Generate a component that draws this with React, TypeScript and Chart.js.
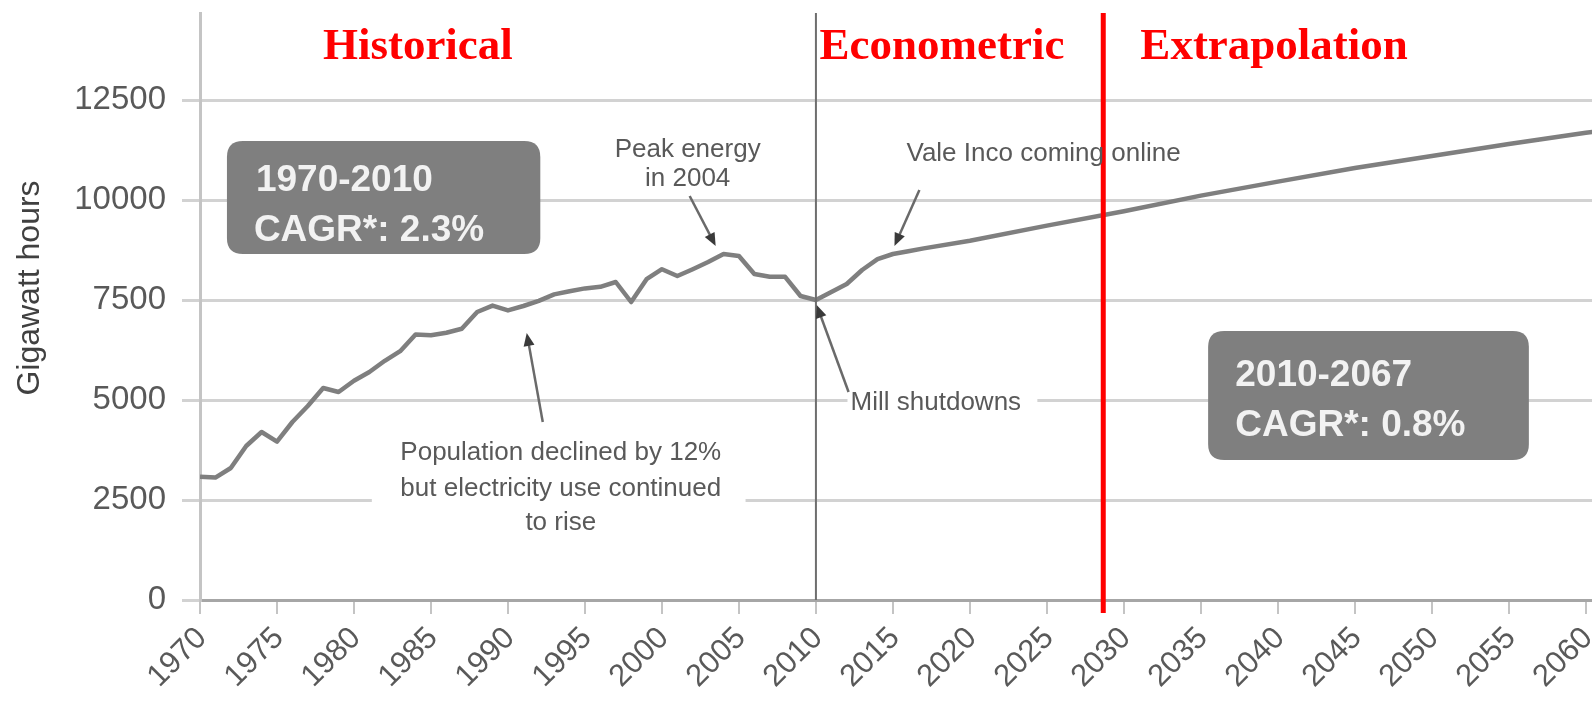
import React, { useEffect, useRef } from "react";
import { Chart, registerables } from "chart.js";

Chart.register(...registerables);

// ---- Data -------------------------------------------------------------
const years = [
  1970, 1971, 1972, 1973, 1974, 1975, 1976, 1977, 1978, 1979,
  1980, 1981, 1982, 1983, 1984, 1985, 1986, 1987, 1988, 1989,
  1990, 1991, 1992, 1993, 1994, 1995, 1996, 1997, 1998, 1999,
  2000, 2001, 2002, 2003, 2004, 2005, 2006, 2007, 2008, 2009,
  2010, 2011, 2012, 2013, 2014, 2015, 2016, 2017,
  2020, 2025, 2030, 2035, 2040, 2045, 2050, 2055, 2060, 2061,
];

const gigawattHours = [
  3080, 3060, 3300, 3850, 4200, 3960, 4450, 4850, 5300, 5200,
  5480, 5700, 5980, 6220, 6640, 6620, 6680, 6780, 7200, 7360,
  7240, 7350, 7480, 7640, 7720, 7790, 7830, 7950, 7450, 8020,
  8270, 8100, 8270, 8450, 8650, 8600, 8150, 8080, 8080, 7600,
  7500, 7700, 7900, 8250, 8520, 8650, 8720, 8790,
  8980, 9360, 9720, 10110, 10460, 10800, 11100, 11400, 11680, 11730,
];

const xTickYears = [
  1970, 1975, 1980, 1985, 1990, 1995, 2000, 2005, 2010, 2015,
  2020, 2025, 2030, 2035, 2040, 2045, 2050, 2055, 2060,
];

const yTickValues = [0, 2500, 5000, 7500, 10000, 12500];

const phaseLabels = ["Historical", "Econometric", "Extrapolation"];
const yAxisTitle = "Gigawatt hours";
const historicalBoxLines = ["1970-2010", "CAGR*: 2.3%"];
const forecastBoxLines = ["2010-2067", "CAGR*: 0.8%"];
const peakNoteLines = ["Peak energy", "in 2004"];
const valeNote = "Vale Inco coming online";
const millNote = "Mill shutdowns";
const populationNoteLines = [
  "Population declined by 12%",
  "but electricity use continued",
  "to rise",
];

// ---- Styles -----------------------------------------------------------
const SANS = "'Liberation Sans', Arial, sans-serif";
const SERIF = "'Liberation Serif', 'Times New Roman', serif";

const annotationPlugin = {
  id: "annotations",
  afterDatasetsDraw(chart: any) {
    const { ctx, scales, chartArea } = chart;
    const xs = scales.x;
    const ys = scales.y;
    const px = (v: number) => xs.getPixelForValue(v);
    const py = (v: number) => ys.getPixelForValue(v);

    ctx.save();

    // white text-box backgrounds hiding gridlines
    ctx.fillStyle = "#ffffff";
    ctx.fillRect(px(1981.16), py(4200), px(2005.43) - px(1981.16), py(1500) - py(4200));
    ctx.fillRect(px(2012.05), py(5350), px(2024.38) - px(2012.05), py(4500) - py(5350));

    // econometric divider
    ctx.strokeStyle = "#6e6e6e";
    ctx.lineWidth = 2;
    ctx.beginPath();
    ctx.moveTo(px(2010), chartArea.top);
    ctx.lineTo(px(2010), chartArea.bottom);
    ctx.stroke();

    // red extrapolation divider
    ctx.strokeStyle = "#ff0000";
    ctx.lineWidth = 5;
    ctx.beginPath();
    ctx.moveTo(px(2028.66), chartArea.top);
    ctx.lineTo(px(2028.66), chartArea.bottom + 13);
    ctx.stroke();

    // rounded gray boxes
    const roundBox = (x0: number, y0: number, x1: number, y1: number, r: number) => {
      ctx.beginPath();
      ctx.moveTo(x0 + r, y0);
      ctx.lineTo(x1 - r, y0);
      ctx.quadraticCurveTo(x1, y0, x1, y0 + r);
      ctx.lineTo(x1, y1 - r);
      ctx.quadraticCurveTo(x1, y1, x1 - r, y1);
      ctx.lineTo(x0 + r, y1);
      ctx.quadraticCurveTo(x0, y1, x0, y1 - r);
      ctx.lineTo(x0, y0 + r);
      ctx.quadraticCurveTo(x0, y0, x0 + r, y0);
      ctx.closePath();
      ctx.fill();
    };
    ctx.fillStyle = "#7f7f7f";
    roundBox(px(1971.75), py(11475), px(1992.1), py(8650), 16);
    roundBox(px(2035.47), py(6725), px(2056.3), py(3500), 16);

    ctx.fillStyle = "#f2f2f2";
    ctx.font = `bold 37px ${SANS}`;
    ctx.textAlign = "left";
    ctx.textBaseline = "alphabetic";
    ctx.fillText(historicalBoxLines[0], px(1973.63), py(10225));
    ctx.fillText(historicalBoxLines[1], px(1973.5), py(8975));
    ctx.fillText(forecastBoxLines[0], px(2037.23), py(5350));
    ctx.fillText(forecastBoxLines[1], px(2037.23), py(4100));

    // phase labels
    ctx.fillStyle = "#ff0000";
    ctx.font = `bold 45px ${SERIF}`;
    ctx.fillText(phaseLabels[0], px(1977.98), py(13525));
    ctx.fillText(phaseLabels[1], px(2010.23), py(13525));
    ctx.fillText(phaseLabels[2], px(2031.07), py(13525));

    // notes
    ctx.fillStyle = "#595959";
    ctx.font = `26px ${SANS}`;
    ctx.textBaseline = "middle";
    ctx.textAlign = "center";
    ctx.fillText(peakNoteLines[0], px(2001.67), py(11250));
    ctx.fillText(peakNoteLines[1], px(2001.67), py(10525));
    ctx.fillText(populationNoteLines[0], px(1993.43), py(3675));
    ctx.fillText(populationNoteLines[1], px(1993.43), py(2775));
    ctx.fillText(populationNoteLines[2], px(1993.43), py(1925));
    ctx.textAlign = "left";
    ctx.fillText(valeNote, px(2015.88), py(11150));
    ctx.fillText(millNote, px(2012.25), py(4925));

    // arrows
    const arrow = (x0: number, y0: number, x1: number, y1: number) => {
      const ax = px(x0), ay = py(y0), bx = px(x1), by = py(y1);
      const ang = Math.atan2(by - ay, bx - ax);
      ctx.strokeStyle = "#6a6a6a";
      ctx.lineWidth = 2.5;
      ctx.beginPath();
      ctx.moveTo(ax, ay);
      ctx.lineTo(bx - Math.cos(ang) * 8, by - Math.sin(ang) * 8);
      ctx.stroke();
      ctx.fillStyle = "#3a3a3a";
      const len = 13, half = 5.5;
      ctx.beginPath();
      ctx.moveTo(bx, by);
      ctx.lineTo(bx - Math.cos(ang) * len - Math.sin(ang) * half, by - Math.sin(ang) * len + Math.cos(ang) * half);
      ctx.lineTo(bx - Math.cos(ang) * len + Math.sin(ang) * half, by - Math.sin(ang) * len - Math.cos(ang) * half);
      ctx.closePath();
      ctx.fill();
    };
    arrow(2001.8, 10100, 2003.49, 8850);
    arrow(2016.72, 10250, 2015.1, 8850);
    arrow(2012.12, 5200, 2010.05, 7375);
    arrow(1992.26, 4450, 1991.22, 6675);

    // y axis title
    ctx.save();
    ctx.translate(30, 288);
    ctx.rotate(-Math.PI / 2);
    ctx.fillStyle = "#404040";
    ctx.font = `32px ${SANS}`;
    ctx.textAlign = "center";
    ctx.textBaseline = "middle";
    ctx.fillText(yAxisTitle, 0, 0);
    ctx.restore();

    ctx.restore();
  },
};

export default function App() {
  const canvasRef = useRef<HTMLCanvasElement | null>(null);

  useEffect(() => {
    document.body.style.margin = "0";
    const canvas = canvasRef.current;
    if (!canvas) return;

    const chart = new Chart(canvas, {
      type: "line",
      data: {
        datasets: [
          {
            label: yAxisTitle,
            data: years.map((yr, i) => ({ x: yr, y: gigawattHours[i] })),
            borderColor: "#7f7f7f",
            borderWidth: 4.5,
            pointRadius: 0,
            tension: 0,
            borderJoinStyle: "round",
            fill: false,
          },
        ],
      },
      options: {
        responsive: false,
        animation: false,
        layout: { padding: { top: 13, left: 0, right: 0, bottom: 0 } },
        plugins: {
          legend: { display: false },
          tooltip: { enabled: false },
        },
        scales: {
          x: {
            type: "linear",
            min: 1970,
            max: 2060.4,
            afterBuildTicks: (s: any) => {
              s.ticks = xTickYears.map((v) => ({ value: v }));
            },
            afterFit: (s: any) => {
              s.height = 105;
              s.paddingLeft = 0;
              s.paddingRight = 0;
            },
            border: { display: true, color: "#a6a6a6", width: 3 },
            grid: {
              drawOnChartArea: false,
              drawTicks: true,
              tickLength: 14,
              color: "#c4c4c4",
              lineWidth: 2,
            },
            ticks: {
              autoSkip: false,
              minRotation: 45,
              maxRotation: 45,
              padding: 6,
              labelOffset: 2,
              color: "#595959",
              font: { family: SANS, size: 31 },
              callback: (v: any) => String(v),
            },
          },
          y: {
            min: 0,
            max: 14675,
            afterBuildTicks: (s: any) => {
              s.ticks = yTickValues.map((v) => ({ value: v }));
            },
            afterFit: (s: any) => {
              s.width = 200;
              s.paddingTop = 0;
              s.paddingBottom = 0;
            },
            border: { display: true, color: "#c4c4c4", width: 3 },
            grid: {
              color: "#d2d2d2",
              lineWidth: 3,
              drawTicks: true,
              tickLength: 18,
            },
            ticks: {
              padding: 16,
              color: "#595959",
              font: { family: SANS, size: 33 },
              callback: (v: any) => String(v),
            },
          },
        },
      },
      plugins: [annotationPlugin],
    } as any);

    return () => chart.destroy();
  }, []);

  return (
    <div style={{ position: "absolute", left: 0, top: 0, width: 1592, height: 705, background: "#fff" }}>
      <canvas ref={canvasRef} width={1592} height={705} style={{ display: "block" }} />
    </div>
  );
}
